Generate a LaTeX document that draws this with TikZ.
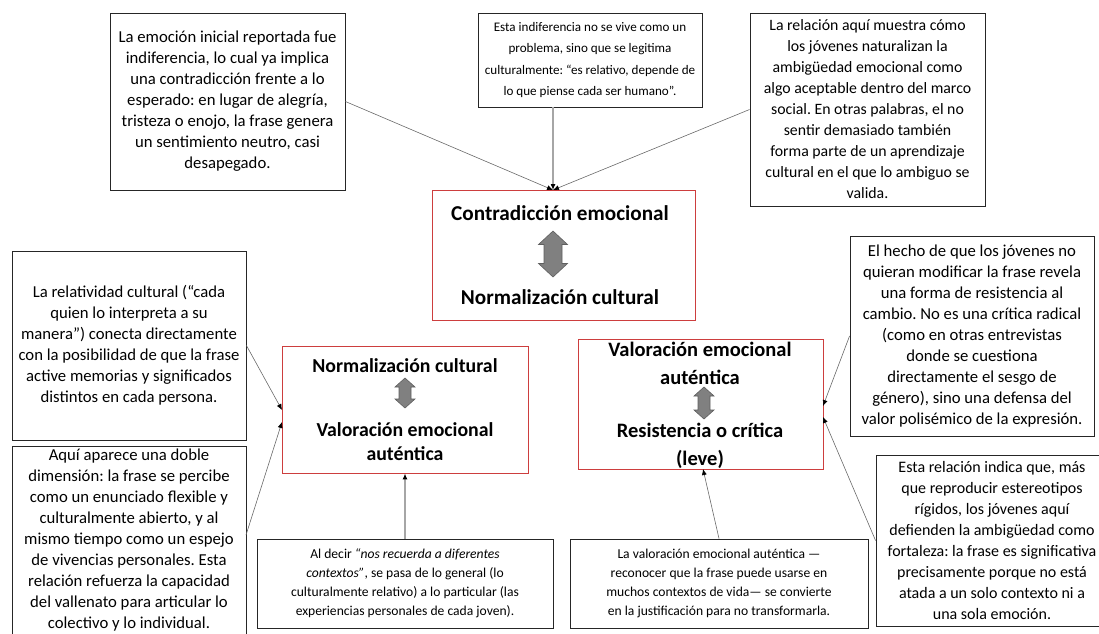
\documentclass[tikz,border=0pt]{standalone}
\usepackage{fontspec}
\setmainfont{Carlito}
\usetikzlibrary{arrows.meta}

\definecolor{keyred}{RGB}{205,62,62}
\definecolor{lineg}{RGB}{105,105,105}
\definecolor{arrfill}{RGB}{128,128,128}
\definecolor{arrdraw}{RGB}{95,95,95}

% double block arrow: cx, cy, half length, half head width, half shaft width, head length
\newcommand\dblarrow[6]{%
  \filldraw[dblshape] (#1,#2-#3) -- (#1+#4,#2-#3+#6) -- (#1+#5,#2-#3+#6) --
    (#1+#5,#2+#3-#6) -- (#1+#4,#2+#3-#6) -- (#1,#2+#3) -- (#1-#4,#2+#3-#6) --
    (#1-#5,#2+#3-#6) -- (#1-#5,#2-#3+#6) -- (#1-#4,#2-#3+#6) -- cycle;}

\begin{document}
\frenchspacing
\begin{tikzpicture}[x=1pt,y=-1pt,
  note/.style={draw=black!85, line width=0.9pt, fill=white, align=center,
    inner sep=0pt, font=\fontsize{16.7}{21}\selectfont},
  midnote/.style={note, font=\fontsize{15.8}{21}\selectfont},
  smallnote/.style={note, font=\fontsize{13.6}{19}\selectfont},
  tinynote/.style={note, font=\fontsize{13.1}{21.5}\selectfont},
  plaintext/.style={align=center, inner sep=0pt, font=\fontsize{16}{21}\selectfont},
  keybox/.style={draw=keyred, line width=0.9pt, fill=white, inner sep=0pt},
  keytext/.style={font=\bfseries\fontsize{21.2}{25}\selectfont, align=center, inner sep=0pt},
  mltext/.style={font=\bfseries\fontsize{19.8}{24}\selectfont, align=center, inner sep=0pt},
  mrtext/.style={font=\bfseries\fontsize{20.5}{27.5}\selectfont, align=center, inner sep=0pt},
  dblshape/.style={draw=arrdraw, fill=arrfill, line width=0.6pt, line join=miter},
  conn/.style={draw=lineg, line width=0.6pt, -{Latex[length=6pt,width=5pt,color=black]}},
  vconn/.style={draw=black!35, line width=1.1pt, -{Latex[length=6pt,width=5pt,color=black]}},
]
\useasboundingbox (0,0) rectangle (1099,633);
\clip (0,0) rectangle (1099,633);

% ---------- key relation boxes ----------
\node[keybox, minimum width=263, minimum height=130] (C) at (563.5,255) {};
\node[keytext] (Ct1) at (560,213) {Contradicción emocional};
\node[keytext] (Ct2) at (560,297) {Normalización cultural};
\dblarrow{553}{254}{23}{14.5}{9}{13.5}

\node[keybox, minimum width=246, minimum height=127] (ML) at (405,409.5) {};
\node[mltext] (MLt1) at (405,366) {Normalización cultural};
\node[mltext] (MLt2) at (405,442) {Valoración emocional\\auténtica};
\dblarrow{405}{393}{15}{10}{6}{9}

\node[keybox, minimum width=245, minimum height=130] (MR) at (700.5,404) {};
\node[mrtext] (MRt1) at (700,363.5) {Valoración emocional\\auténtica};
\node[mrtext] (MRt2) at (700,446) {Resistencia o crítica\\(leve)};
\dblarrow{704}{403}{16}{10}{6}{9}

% ---------- comment boxes ----------
\node[note, minimum width=235, minimum height=177] (B1) at (227.5,101.5)
 {La emoción inicial reportada fue\\indiferencia, lo cual ya implica\\una contradicción frente a lo\\esperado: en lugar de alegría,\\tristeza o enojo, la frase genera\\un sentimiento neutro, casi\\desapegado.};

\node[tinynote, minimum width=224, minimum height=94] (B2) at (590,60)
 {Esta indiferencia no se vive como un\\problema, sino que se legitima\\culturalmente: “es relativo, depende de\\lo que piense cada ser humano”.};

\node[midnote, minimum width=235, minimum height=193] (B3) at (867.5,109.5)
 {La relación aquí muestra cómo\\los jóvenes naturalizan la\\ambigüedad emocional como\\algo aceptable dentro del marco\\social. En otras palabras, el no\\sentir demasiado también\\forma parte de un aprendizaje\\cultural en el que lo ambiguo se\\valida.};

\node[note, minimum width=234, minimum height=189] (L1) at (129,345.5)
 {La relatividad cultural (“cada\\quien lo interpreta a su\\manera”) conecta directamente\\con la posibilidad de que la frase\\active memorias y significados\\distintos en cada persona.};

\node[note, minimum width=234, minimum height=189] (L2) at (129,540.5)
 {Aquí aparece una doble\\dimensión: la frase se percibe\\como un enunciado flexible y\\culturalmente abierto, y al\\mismo tiempo como un espejo\\de vivencias personales. Esta\\relación refuerza la capacidad\\del vallenato para articular lo\\colectivo y lo individual.};

\node[smallnote, minimum width=296, minimum height=89] (BC1) at (405,583.5)
 {Al decir \textit{“nos recuerda a diferentes}\\\textit{contextos”}, se pasa de lo general (lo\\culturalmente relativo) a lo particular (las\\experiencias personales de cada joven).};

\node[smallnote, minimum width=298, minimum height=89] (BC2) at (719,583.5)
 {La valoración emocional auténtica —\\reconocer que la frase puede usarse en\\muchos contextos de vida— se convierte\\en la justificación para no transformarla.};

\node[note, minimum width=244, minimum height=200] (R1) at (972,336)
 {El hecho de que los jóvenes no\\quieran modificar la frase revela\\una forma de resistencia al\\cambio. No es una crítica radical\\(como en otras entrevistas\\donde se cuestiona\\directamente el sesgo de\\género), sino una defensa del\\valor polisémico de la expresión.};

\node[note, minimum width=250, minimum height=171] (R2) at (1001,540.5) {};
\node[plaintext] (R2t) at (992,540.5)
 {Esta relación indica que, más\\que reproducir estereotipos\\rígidos, los jóvenes aquí\\defienden la ambigüedad como\\fortaleza: la frase es significativa\\precisamente porque no está\\atada a un solo contexto ni a\\una sola emoción.};

% ---------- connector end points ----------
\coordinate (ctop) at (553,190);
\coordinate (b2foot) at (553,107);
\coordinate (mlin1) at (282,410);
\coordinate (mlin2) at (282,422);
\coordinate (l2out) at (246,535);
\coordinate (mrin1) at (823,406);
\coordinate (mrin2) at (823,417);
\coordinate (mrbot) at (703,469);

% ---------- connectors ----------
\draw[conn] (B1.east) -- (ctop);
\draw[vconn] (b2foot) -- (ctop);
\draw[conn] (B3.west) -- (ctop);
\draw[conn] (L1.east) -- (mlin1);
\draw[conn] (l2out) -- (mlin2);
\draw[vconn] (BC1.north) -- (ML.south);
\draw[conn] (BC2.north) -- (mrbot);
\draw[conn] (R1.west) -- (mrin1);
\draw[conn] (R2.west) -- (mrin2);
\end{tikzpicture}
\end{document}
